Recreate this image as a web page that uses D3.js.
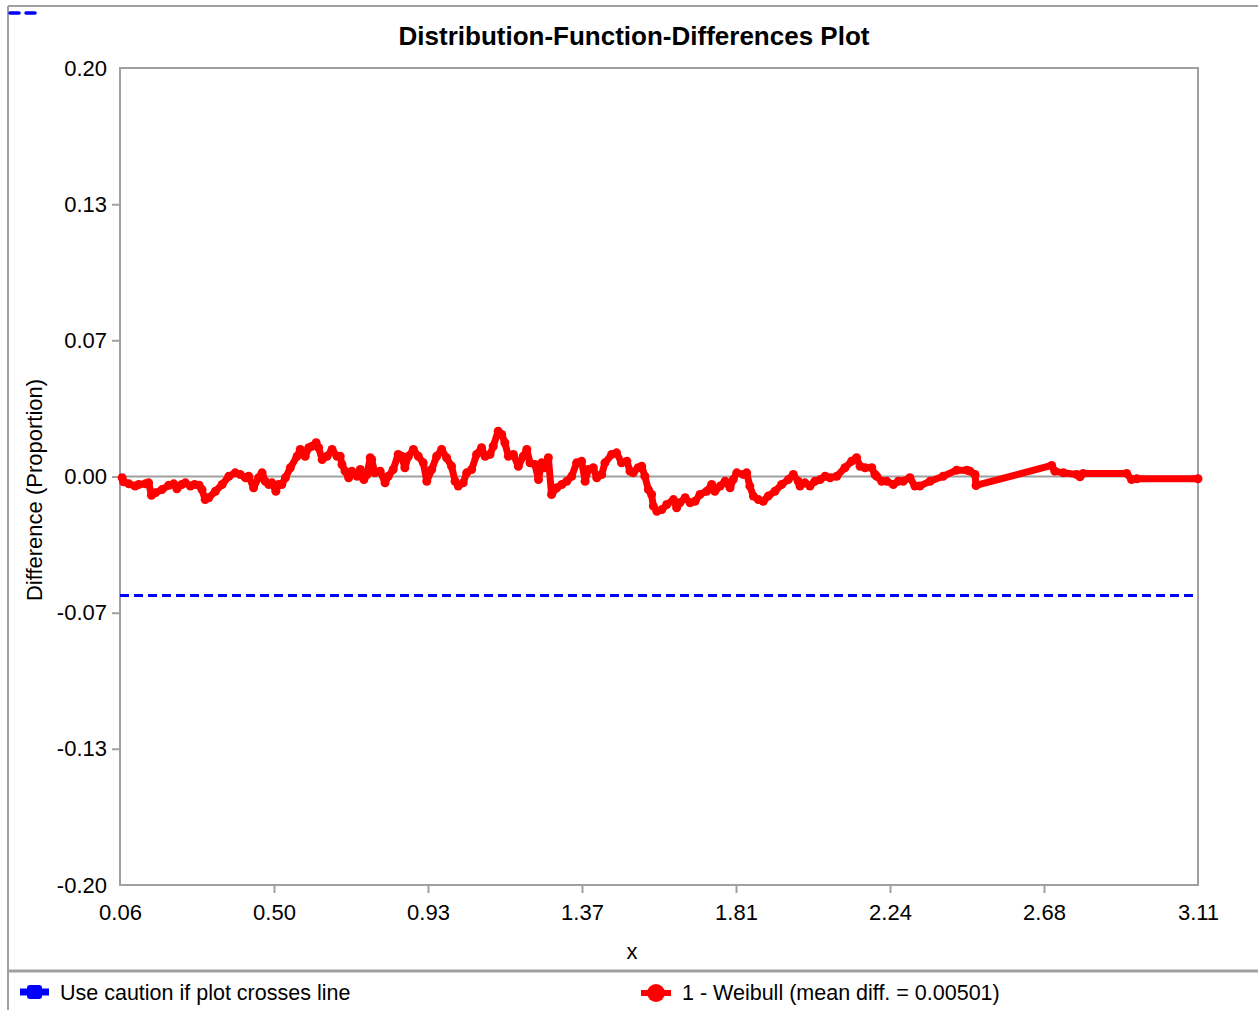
<!DOCTYPE html>
<html>
<head>
<meta charset="utf-8">
<script src="https://cdn.jsdelivr.net/npm/d3@7"></script>
<style>
    body { margin: 0; background: #fff; }
    text { font-family: Arial, "Liberation Sans", sans-serif; fill: #000; }
</style>
</head>
<body>
<svg id="chart" width="1258" height="1010"></svg>
<script>
// x positions of the difference curve
var xValues = [
    0.066, 0.070, 0.085, 0.103, 0.113, 0.132, 0.141, 0.149, 0.160, 0.179,
    0.198, 0.212, 0.221, 0.235, 0.245, 0.259, 0.271, 0.284, 0.292, 0.301,
    0.311, 0.330, 0.349, 0.368, 0.386, 0.400, 0.415, 0.424, 0.438, 0.452,
    0.462, 0.471, 0.481, 0.490, 0.501, 0.509, 0.518, 0.528, 0.542, 0.561,
    0.570, 0.584, 0.594, 0.603, 0.615, 0.622, 0.632, 0.646, 0.660, 0.674,
    0.683, 0.688, 0.697, 0.707, 0.716, 0.731, 0.740, 0.750, 0.759, 0.768,
    0.772, 0.781, 0.796, 0.810, 0.819, 0.833, 0.847, 0.857, 0.866, 0.876,
    0.890, 0.904, 0.918, 0.928, 0.942, 0.956, 0.970, 0.984, 0.998, 1.008,
    1.017, 1.031, 1.041, 1.055, 1.069, 1.083, 1.093, 1.107, 1.116, 1.130,
    1.140, 1.149, 1.159, 1.173, 1.187, 1.201, 1.211, 1.220, 1.234, 1.244,
    1.253, 1.262, 1.272, 1.281, 1.296, 1.310, 1.324, 1.338, 1.352, 1.366,
    1.376, 1.385, 1.399, 1.409, 1.423, 1.432, 1.451, 1.465, 1.479, 1.494,
    1.503, 1.512, 1.526, 1.536, 1.545, 1.555, 1.564, 1.569, 1.579, 1.593,
    1.607, 1.626, 1.635, 1.644, 1.659, 1.673, 1.687, 1.701, 1.720, 1.734,
    1.743, 1.758, 1.772, 1.786, 1.795, 1.805, 1.824, 1.833, 1.842, 1.852,
    1.866, 1.880, 1.894, 1.913, 1.932, 1.951, 1.965, 1.979, 1.984, 1.998,
    2.012, 2.026, 2.041, 2.055, 2.069, 2.088, 2.111, 2.130, 2.144, 2.154,
    2.168, 2.187, 2.196, 2.201, 2.215, 2.229, 2.248, 2.262, 2.276, 2.295,
    2.309, 2.323, 2.352, 2.389, 2.427, 2.456, 2.465, 2.479, 2.482, 2.696,
    2.705, 2.729, 2.767, 2.776, 2.785, 2.908, 2.922, 2.937, 3.110
];

// difference (proportion) at each x
var yValues = [
    -0.0006, -0.0026, -0.0036, -0.0047, -0.0039, -0.0036, -0.0031, -0.0092, -0.0080, -0.0064,
    -0.0043, -0.0036, -0.0060, -0.0039, -0.0031, -0.0047, -0.0039, -0.0043, -0.0064, -0.0113,
    -0.0104, -0.0072, -0.0039, 0.0001, 0.0018, 0.0010, -0.0006, 0.0001, -0.0055, -0.0006,
    0.0018, -0.0023, -0.0039, -0.0031, -0.0072, -0.0039, -0.0039, -0.0006, 0.0043, 0.0099,
    0.0132, 0.0099, 0.0141, 0.0148, 0.0165, 0.0141, 0.0083, 0.0099, 0.0132, 0.0099,
    0.0099, 0.0059, 0.0026, -0.0006, 0.0026, 0.0001, 0.0034, -0.0015, 0.0010, 0.0092,
    0.0083, 0.0018, 0.0026, -0.0031, 0.0001, 0.0034, 0.0108, 0.0099, 0.0043, 0.0099,
    0.0132, 0.0099, 0.0067, -0.0023, 0.0034, 0.0099, 0.0132, 0.0092, 0.0050, -0.0023,
    -0.0047, -0.0031, 0.0018, 0.0034, 0.0108, 0.0141, 0.0099, 0.0108, 0.0148, 0.0222,
    0.0206, 0.0165, 0.0099, 0.0108, 0.0050, 0.0099, 0.0132, 0.0067, 0.0059, -0.0015,
    0.0067, 0.0043, 0.0092, -0.0088, -0.0055, -0.0039, -0.0023, 0.0001, 0.0067, 0.0075,
    -0.0023, 0.0034, 0.0043, -0.0006, 0.0010, 0.0067, 0.0108, 0.0116, 0.0067, 0.0075,
    0.0026, 0.0018, 0.0043, 0.0050, 0.0001, -0.0064, -0.0088, -0.0145, -0.0170, -0.0162,
    -0.0137, -0.0113, -0.0153, -0.0129, -0.0104, -0.0129, -0.0121, -0.0088, -0.0072, -0.0039,
    -0.0072, -0.0047, -0.0023, -0.0055, -0.0015, 0.0018, 0.0010, 0.0018, -0.0047, -0.0096,
    -0.0113, -0.0121, -0.0096, -0.0072, -0.0039, -0.0015, 0.0010, -0.0023, -0.0047, -0.0031,
    -0.0047, -0.0023, -0.0015, 0.0001, -0.0006, 0.0001, 0.0043, 0.0075, 0.0092, 0.0050,
    0.0043, 0.0043, 0.0010, 0.0001, -0.0023, -0.0023, -0.0039, -0.0023, -0.0023, -0.0006,
    -0.0047, -0.0047, -0.0023, 0.0001, 0.0031, 0.0031, 0.0026, 0.0010, -0.0044, 0.0054,
    0.0026, 0.0018, 0.0010, -0.0001, 0.0015, 0.0015, -0.0015, -0.0011, -0.0011
];

var cautionLevel = -0.0583;

var xDomain = [0.06, 3.11];
var yDomain = [-0.20, 0.20];
var xTicks = [0.06, 0.4957, 0.9314, 1.3671, 1.8029, 2.2386, 2.6743, 3.11];
var xTickLabels = ["0.06", "0.50", "0.93", "1.37", "1.81", "2.24", "2.68", "3.11"];
var yTicks = [0.20, 0.1333, 0.0667, 0.00, -0.0667, -0.1333, -0.20];
var yTickLabels = ["0.20", "0.13", "0.07", "0.00", "-0.07", "-0.13", "-0.20"];

var chartTitle = "Distribution-Function-Differences Plot";
var xAxisLabel = "x";
var yAxisLabel = "Difference (Proportion)";
var legendLabels = ["Use caution if plot crosses line", "1 - Weibull (mean diff. = 0.00501)"];

var grey = "#a0a0a0";

var svg = d3.select("#chart");
var W = 1258, H = 1010;

// outer frame: top border, left border and the legend separator
svg.append("line").attr("x1", 8).attr("y1", 6).attr("x2", W).attr("y2", 6)
    .attr("stroke", grey).attr("stroke-width", 2);
svg.append("line").attr("x1", 8).attr("y1", 6).attr("x2", 8).attr("y2", H)
    .attr("stroke", grey).attr("stroke-width", 2);
svg.append("line").attr("x1", 8).attr("y1", 971).attr("x2", W).attr("y2", 971)
    .attr("stroke", grey).attr("stroke-width", 3);

// stray dash stub in the top left corner
svg.append("line").attr("x1", 10).attr("y1", 13).attr("x2", 35).attr("y2", 13)
    .attr("stroke", "#0000ff").attr("stroke-width", 3.5)
    .attr("stroke-dasharray", "9,7").attr("stroke-linecap", "round");

var margin = { top: 68, right: 60, bottom: 125, left: 120 },
    width = W - margin.left - margin.right,
    height = H - margin.top - margin.bottom;

var g = svg.append("g").attr("transform", "translate(" + margin.left + "," + margin.top + ")");

var xScale = d3.scaleLinear().domain(xDomain).range([0, width]),
    yScale = d3.scaleLinear().domain(yDomain).range([height, 0]);

// y axis
var yAxis = g.append("g")
    .call(d3.axisLeft(yScale).tickValues(yTicks)
        .tickFormat(function(d, i) { return yTickLabels[i]; })
        .tickSize(8).tickPadding(5));
// x axis
var xAxis = g.append("g")
    .attr("transform", "translate(0," + height + ")")
    .call(d3.axisBottom(xScale).tickValues(xTicks)
        .tickFormat(function(d, i) { return xTickLabels[i]; })
        .tickSize(8).tickPadding(11));

[xAxis, yAxis].forEach(function(a) {
    a.select(".domain").remove();
    a.selectAll(".tick line").attr("stroke", grey).attr("stroke-width", 2);
    // end ticks sit on the frame corners and are not drawn
    a.selectAll(".tick line").filter(function(d, i, n) { return i == 0 || i == n.length - 1; }).remove();
    a.selectAll(".tick text").style("font-size", "22px").attr("fill", "#000");
});

// plot frame
g.append("rect").attr("width", width).attr("height", height)
    .attr("fill", "none").attr("stroke", grey).attr("stroke-width", 2);

// zero line
g.append("line").attr("x1", 0).attr("x2", width)
    .attr("y1", yScale(0)).attr("y2", yScale(0))
    .attr("stroke", grey).attr("stroke-width", 2);

// caution line
g.append("line").attr("x1", xScale(xDomain[0])).attr("x2", xScale(xDomain[1]))
    .attr("y1", yScale(cautionLevel)).attr("y2", yScale(cautionLevel))
    .attr("stroke", "#0000ff").attr("stroke-width", 3).attr("stroke-dasharray", "9,5");

// difference curve with point markers
var points = xValues.map(function(x, i) { return { x: x, y: yValues[i] }; });
var line = d3.line()
    .x(function(d) { return xScale(d.x); })
    .y(function(d) { return yScale(d.y); });

g.append("path").datum(points)
    .attr("d", line)
    .attr("fill", "none").attr("stroke", "#ff0000")
    .attr("stroke-width", 7).attr("stroke-linejoin", "round");

g.selectAll(".pt").data(points).enter().append("circle")
    .attr("class", "pt")
    .attr("cx", function(d) { return xScale(d.x); })
    .attr("cy", function(d) { return yScale(d.y); })
    .attr("r", 4.5).attr("fill", "#ff0000");

// titles
svg.append("text").attr("x", 634).attr("y", 45)
    .attr("text-anchor", "middle").style("font-size", "26px").style("font-weight", "bold")
    .text(chartTitle);
svg.append("text").attr("x", 632).attr("y", 959)
    .attr("text-anchor", "middle").style("font-size", "22px")
    .text(xAxisLabel);
svg.append("text").attr("transform", "translate(42,490) rotate(-90)")
    .attr("text-anchor", "middle").style("font-size", "22px")
    .text(yAxisLabel);

// legend
var legend = svg.append("g");
legend.append("line").attr("x1", 20).attr("x2", 49).attr("y1", 992).attr("y2", 992)
    .attr("stroke", "#0000ff").attr("stroke-width", 7);
legend.append("rect").attr("x", 27).attr("y", 985).attr("width", 15).attr("height", 14)
    .attr("rx", 3).attr("fill", "#0000ff");
legend.append("text").attr("x", 60).attr("y", 1000).style("font-size", "21.5px")
    .text(legendLabels[0]);

legend.append("line").attr("x1", 641).attr("x2", 671).attr("y1", 993).attr("y2", 993)
    .attr("stroke", "#ff0000").attr("stroke-width", 6);
legend.append("circle").attr("cx", 656).attr("cy", 993).attr("r", 9).attr("fill", "#ff0000");
legend.append("text").attr("x", 682).attr("y", 1000).style("font-size", "21.5px")
    .text(legendLabels[1]);
</script>
</body>
</html>
